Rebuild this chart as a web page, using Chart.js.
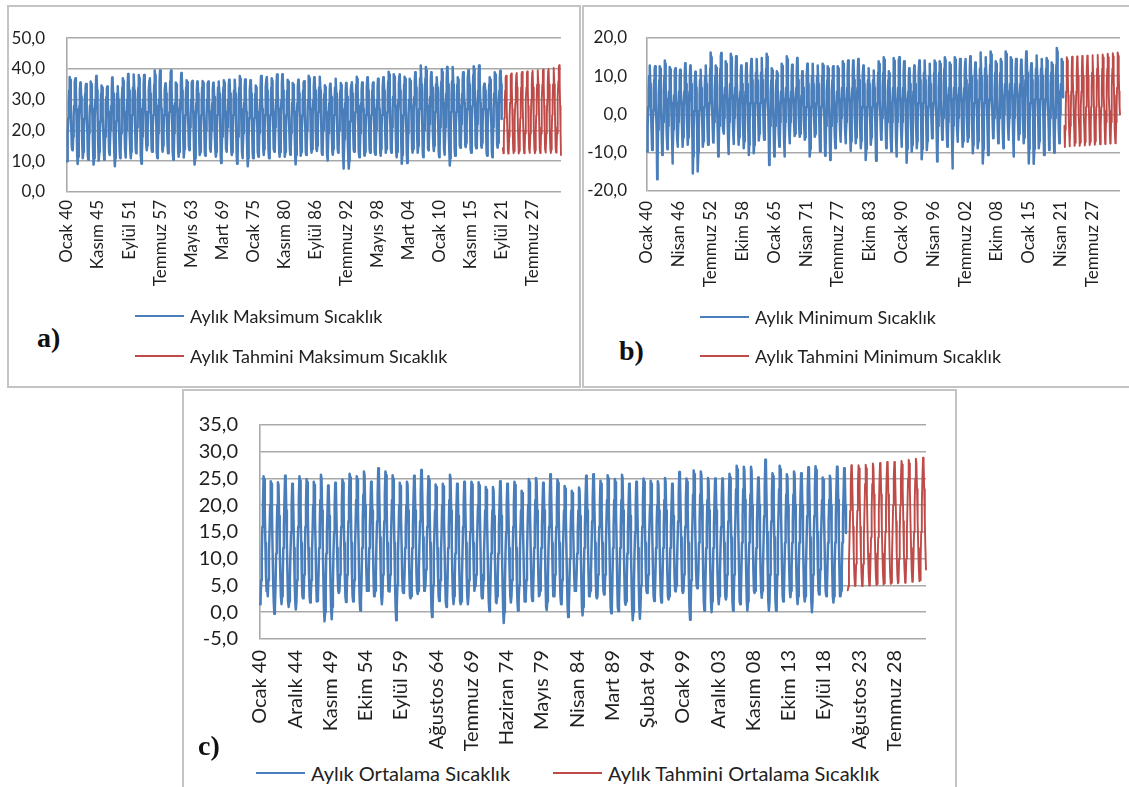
<!DOCTYPE html>
<html><head><meta charset="utf-8">
<script src="https://cdn.jsdelivr.net/npm/chart.js@4.4.1/dist/chart.umd.min.js"></script>
<style>
html,body{margin:0;padding:0;background:#fff;}
body{width:1129px;height:787px;position:relative;overflow:hidden;font-family:Lato,'Open Sans',sans-serif;color:#222;}
.frame{position:absolute;box-sizing:border-box;border:2px solid #c4c4c4;}
canvas{position:absolute;}
.tag{position:absolute;font-family:'Liberation Serif','DejaVu Serif',serif;font-weight:bold;font-size:28px;line-height:28px;color:#111;}
.leg{position:absolute;display:flex;align-items:center;white-space:nowrap;font-family:Lato,sans-serif;color:#222;height:24px;}
.leg .ln{display:inline-block;width:49px;height:2.5px;margin-right:6px;}
</style></head><body>
<div class="frame" style="left:7px;top:5px;width:574px;height:383px;"></div>
<div class="frame" style="left:582px;top:5px;width:549px;height:383px;"></div>
<div class="frame" style="left:182px;top:389px;width:775px;height:402px;"></div>
<canvas id="cA" width="572" height="300" style="left:8px;top:6px;"></canvas>
<canvas id="cB" width="545" height="300" style="left:584px;top:6px;"></canvas>
<canvas id="cC" width="772" height="370" style="left:184px;top:391px;"></canvas>
<div class="tag" style="left:37px;top:324px;">a)</div>
<div class="tag" style="left:619px;top:337px;">b)</div>
<div class="tag" style="left:198px;top:732px;">c)</div>
<div id="legA1" class="leg" style="left:135px;top:304px;font-size:18px;"></div>
<div id="legA2" class="leg" style="left:135px;top:344px;font-size:18px;"></div>
<div id="legB1" class="leg" style="left:700px;top:305px;font-size:18px;"></div>
<div id="legB2" class="leg" style="left:700px;top:344px;font-size:18px;"></div>
<div id="legC1" class="leg" style="left:256px;top:761px;font-size:20px;"></div>
<div id="legC2" class="leg" style="left:553px;top:761px;font-size:20px;"></div>
<script>
const monthNames = ['Ocak','Şubat','Mart','Nisan','Mayıs','Haziran','Temmuz','Ağustos','Eylül','Ekim','Kasım','Aralık'];
const firstYear = 1940;
const lastYear = 2032;
const forecastFirstYear = 2022;
const tickEveryA = 70;
const tickEveryB = 75;
const tickEveryC = 59;

const seriesNames = {
  maxObs: 'Aylık Maksimum Sıcaklık', maxFc: 'Aylık Tahmini Maksimum Sıcaklık',
  minObs: 'Aylık Minimum Sıcaklık', minFc: 'Aylık Tahmini Minimum Sıcaklık',
  meanObs: 'Aylık Ortalama Sıcaklık', meanFc: 'Aylık Tahmini Ortalama Sıcaklık'
};

// a) monthly maximum temperature, Jan 1940 - Oct 2021
const maxObserved = [
10.0,12.5,19,24,29,33,37.4,36.5,32,26,19,14.5,
13.6,14,18,25,28,32,35.8,37.0,33,27,20,12,
9.1,11.5,18,23,28,33,35.6,34.8,31,26,18,13,
11.0,13,20,24,29,32,34.2,35.1,32,25,19,12,
10.5,12,19,25,28,33,35.9,35.0,31,27,20,13,
8.9,11,17,24,30,34,37.7,36.6,33,26,18,12,
10.2,13,19,23,28,32,34.6,34.0,31,25,19,14,
10.5,12,18,24,29,31,33.5,34.3,31,26,20,13,
12.0,14,20,25,28,33,37.2,36.0,32,27,19,12,
8.4,11,18,23,28,32,34.4,33.8,30,25,18,13,
11.0,13,19,25,29,34,37.0,36.2,32,26,20,14,
11.2,12,20,24,30,35,38.4,37.5,33,27,19,13,
11.0,13,19,25,29,34,37.4,38.2,33,28,20,14,
12.6,14,21,26,30,34,38.0,37.1,33,27,19,12,
9.2,12,18,24,30,35,38.0,37.5,34,26,20,15,
13.6,15,20,26,29,33,36.2,37.0,32,27,21,14,
13.1,14,21,25,31,35,39.5,38.0,34,28,20,13,
11.0,13,19,26,30,36,39.5,38.6,33,27,21,14,
13.1,15,20,25,29,33,35.3,34.8,32,26,20,15,
12.6,13,20,26,31,36,38.6,39.5,34,28,20,13,
10.5,12,19,24,29,33,35.6,35.0,32,27,19,13,
11.5,13,20,25,30,35,38.7,37.9,33,26,20,14,
11.2,14,19,25,29,34,36.3,35.8,32,27,21,15,
13.6,15,21,25,30,33,35.4,36.1,33,26,19,12,
8.9,11,18,24,29,33,35.9,35.2,32,26,20,14,
12.0,13,19,25,29,34,36.1,35.5,31,27,20,13,
11.8,14,20,24,30,33,35.2,35.9,32,26,21,14,
13.1,14,20,26,29,33,35.5,35.0,31,26,19,13,
11.5,13,19,25,30,34,35.9,35.3,32,27,20,12,
9.4,12,18,24,29,34,36.3,35.6,33,26,20,14,
13.1,14,21,25,30,34,36.5,36.0,32,27,21,13,
12.0,13,19,25,29,33,35.8,36.5,32,26,19,12,
9.2,11,18,24,30,34,37.7,36.8,33,27,20,13,
11.0,13,19,25,29,34,36.6,36.0,32,26,19,12,
8.4,11,18,24,29,33,36.3,35.5,32,27,20,13,
11.0,13,19,24,28,32,34.6,34.0,31,26,19,13,
11.5,13,19,25,30,34,37.7,36.9,32,27,20,14,
12.0,14,20,25,30,34,36.8,37.4,33,27,19,13,
11.0,13,19,25,29,34,37.0,36.2,32,26,20,14,
13.1,14,21,26,30,35,38.2,37.3,33,27,20,13,
11.5,13,19,25,30,35,38.3,37.6,33,27,20,13,
11.5,13,20,25,29,33,36.5,35.9,32,26,19,14,
12.1,14,19,24,29,33,35.4,34.9,31,26,19,12,
9.0,12,18,24,29,34,36.5,36.0,32,27,20,14,
11.8,13,20,25,29,33,35.4,36.0,32,26,20,13,
12.0,14,20,26,30,35,37.8,37.0,33,27,21,14,
12.8,14,21,25,30,34,37.3,36.5,33,28,20,14,
13.3,15,20,26,30,34,36.8,37.5,33,27,21,13,
12.1,13,20,25,29,32,34.7,34.1,31,26,19,12,
10.2,12,19,24,29,33,35.2,34.6,31,27,20,13,
12.1,14,20,25,30,34,36.8,36.0,32,26,20,14,
12.8,14,20,25,29,33,35.4,34.8,32,27,20,12,
7.6,10,17,24,29,33,35.4,34.7,31,26,18,11,
7.6,10,17,23,29,33,35.0,35.7,32,27,20,14,
13.1,15,21,26,30,35,37.5,36.7,33,28,20,13,
11.3,13,19,25,29,33,35.6,35.0,32,27,19,12,
11.8,13,20,25,30,34,37.3,36.6,33,26,20,14,
12.8,14,20,25,29,33,35.0,35.6,32,27,20,13,
12.1,14,20,26,30,34,36.8,36.1,33,27,20,13,
11.8,14,20,25,30,34,37.3,36.5,33,28,21,14,
12.8,14,21,26,31,36,39.1,38.2,34,28,21,14,
12.8,15,21,27,31,35,38.3,37.5,34,28,20,13,
11.3,13,20,26,30,35,37.6,38.3,33,27,20,13,
9.2,12,18,25,30,35,37.5,36.8,33,27,20,12,
9.4,12,19,25,30,34,36.8,36.1,33,28,21,14,
12.8,14,21,26,31,36,38.9,38.0,34,28,20,14,
12.8,15,21,27,32,37,40.2,41.1,35,29,21,13,
11.3,14,20,27,32,37,40.6,39.5,35,28,22,14,
13.5,15,22,27,31,36,38.9,38.2,34,29,21,15,
13.3,15,21,26,31,35,37.3,36.6,34,28,21,13,
11.3,14,21,27,32,36,39.9,39.0,35,29,22,14,
12.1,14,21,27,32,37,40.6,39.8,35,28,21,13,
8.6,11,19,26,31,36,39.7,40.6,35,29,22,14,
11.8,14,21,26,31,35,37.3,36.5,34,28,21,15,
14.4,16,22,27,32,36,38.9,38.0,35,29,22,15,
14.6,16,22,27,32,37,39.6,38.8,35,29,21,14,
12.8,15,22,28,33,38,40.9,40.0,35,29,22,15,
14.2,16,22,28,33,38,41.1,40.2,36,29,22,15,
14.4,16,22,27,31,34,35.2,34.6,33,28,21,13,
11.8,14,21,27,31,35,37.3,36.5,34,29,21,13,
11.3,14,21,27,32,36,38.9,38.1,35,29,22,15,
14.4,16,22,28,33,37,39.4,38.5,35,23.7
];
// a) forecast, Jan 2022 - Dec 2032
const maxForecast = [
14.2,12.6,18,24,29,33,37.2,37.8,33,27,20,14,
12.5,13.2,18,24,29,34,37.9,38.5,34,27,20,14,
12.6,13.3,18,24,29,34,38.1,38.7,34,27,20,14,
12.5,13.4,18,24,29,34,38.4,39.0,34,28,20,14,
12.6,13.4,19,24,30,34,38.6,39.2,34,28,20,14,
12.7,13.5,19,24,30,35,38.8,39.4,34,28,21,14,
12.6,13.5,19,25,30,35,39.0,39.6,35,28,21,14,
12.7,13.6,19,25,30,35,39.2,39.8,35,28,21,14,
12.8,13.6,19,25,30,35,39.4,40.0,35,28,21,14,
12.7,13.7,19,25,30,35,39.7,40.3,35,28,21,14,
12.8,13.7,19,25,31,36,40.6,41.2,35,28,20,12
];

// b) monthly minimum temperature, Jan 1940 - Oct 2021
const minObserved = [
-9.7,-7,-3,2,6,10,12.8,12.2,8,3,-1,-5,
-9.3,-8,-3,1,6,9,11.9,12.6,8,4,-1,-6,
-16.9,-12,-4,1,5,9,12.6,12.0,7,3,-2,-7,
-10.6,-8,-2,2,6,10,14.1,13.2,8,4,0,-5,
-9.1,-7,-3,2,6,9,12.4,11.8,7,3,-1,-6,
-12.8,-10,-4,1,5,9,11.5,12.1,7,3,-2,-6,
-8.4,-7,-2,2,6,9,11.7,11.2,7,3,-1,-5,
-8.4,-6,-2,2,6,10,13.4,12.8,8,4,0,-4,
-7.9,-6,-2,3,6,10,12.8,12.0,8,3,-1,-6,
-15.4,-11,-4,1,5,8,11.2,10.8,7,2,-3,-9,
-14.9,-10,-4,1,5,9,11.7,11.2,7,3,-1,-5,
-8.4,-7,-2,2,6,10,12.8,12.3,8,4,0,-5,
-7.9,-6,-1,3,7,12,16.2,15.0,10,5,0,-4,
-7.3,-6,-2,2,6,10,12.8,12.2,8,3,-1,-6,
-11.0,-9,-3,3,7,12,15.2,16.1,10,5,1,-3,
-4.5,-5,-1,3,7,11,13.9,13.2,9,4,-1,-6,
-10.3,-8,-2,3,8,12,15.9,15.0,10,5,0,-4,
-7.7,-6,-1,3,7,11,15.2,14.5,9,4,0,-5,
-7.9,-6,-2,2,6,10,12.8,12.2,8,3,-1,-5,
-8.8,-7,-2,2,6,10,13.4,12.8,8,4,0,-5,
-10.6,-8,-2,3,7,11,14.5,13.8,9,4,0,-6,
-10.1,-8,-2,3,7,11,13.6,14.5,9,4,0,-4,
-6.8,-5,-1,3,7,11,14.8,14.0,9,5,1,-4,
-6.6,-6,-1,4,8,12,15.9,15.1,10,5,0,-6,
-13.2,-9,-3,2,6,9,12.1,11.6,8,3,-1,-6,
-11.0,-8,-3,2,5,9,11.3,10.8,7,3,-1,-5,
-8.4,-7,-2,2,6,10,13.3,12.7,8,4,0,-6,
-11.0,-8,-2,3,7,11,15.2,14.4,9,4,0,-4,
-7.5,-6,-2,2,6,10,13.0,12.4,8,4,0,-3,
-5.6,-5,-1,3,7,11,14.8,14.0,9,4,0,-4,
-5.8,-5,-2,2,5,9,11.3,10.9,7,3,-1,-4,
-6.6,-6,-2,2,6,10,13.3,12.6,8,4,0,-6,
-11.0,-9,-3,2,6,10,12.7,13.3,8,3,-1,-3,
-5.8,-5,-1,3,6,10,12.8,12.2,8,3,-1,-6,
-9.7,-8,-2,2,6,10,13.3,12.8,8,4,0,-6,
-10.8,-9,-3,2,6,9,12.6,12.0,8,3,-1,-7,
-11.9,-9,-3,2,6,9,12.0,12.6,8,3,-1,-5,
-8.8,-7,-2,2,6,10,12.6,12.0,8,4,0,-4,
-7.1,-6,-1,3,7,11,13.9,13.2,9,4,0,-4,
-7.5,-6,-2,3,7,11,14.1,13.5,9,4,0,-5,
-9.5,-7,-2,3,7,11,14.1,13.4,9,4,0,-4,
-7.5,-6,-2,3,7,11,14.5,13.8,9,4,0,-5,
-8.8,-7,-2,2,6,10,12.8,12.2,8,3,-1,-6,
-11.9,-9,-3,2,6,9,12.1,11.6,8,3,-1,-4,
-7.9,-6,-2,2,6,9,11.5,11.0,7,3,-1,-6,
-12.1,-9,-3,3,7,11,13.9,13.2,9,4,0,-4,
-6.6,-5,-1,3,7,11,15.0,14.3,9,4,0,-5,
-8.8,-7,-2,2,6,9,11.3,10.8,7,3,-1,-6,
-9.7,-8,-2,3,7,11,14.8,14.0,9,4,0,-6,
-11.0,-8,-2,3,7,11,14.2,15.0,9,4,0,-4,
-8.4,-7,-2,3,7,11,13.9,13.3,9,4,0,-6,
-12.6,-9,-3,2,6,9,12.1,11.6,8,3,-1,-5,
-9.7,-8,-2,2,6,10,12.8,12.2,8,3,-1,-5,
-8.8,-7,-2,3,7,11,14.1,13.4,9,4,0,-6,
-11.7,-9,-3,3,7,11,14.1,13.5,9,4,0,-5,
-9.3,-7,-2,2,6,10,13.3,12.6,8,4,0,-3,
-6.2,-5,-1,3,7,11,14.1,13.5,9,4,0,-6,
-12.3,-9,-3,3,7,11,13.9,13.2,9,4,0,-3,
-6.6,-5,-1,3,8,12,15.0,14.3,10,5,1,-4,
-8.4,-7,-2,3,7,10,13.6,13.0,9,4,0,-6,
-14.1,-10,-3,3,7,11,15.0,14.3,9,5,0,-4,
-7.1,-6,-1,3,7,11,14.5,13.8,9,4,0,-5,
-8.4,-7,-2,3,7,11,13.8,14.5,9,4,0,-4,
-7.1,-6,-1,3,8,12,15.2,14.5,10,5,0,-5,
-10.1,-8,-2,3,7,10,13.6,13.0,9,4,0,-5,
-8.8,-7,-1,4,8,12,16.2,15.4,10,5,1,-6,
-12.8,-9,-2,3,8,12,15.0,14.3,10,5,0,-5,
-10.6,-8,-1,4,8,13,16.5,15.7,10,5,1,-3,
-6.2,-5,-1,3,7,11,13.9,13.3,9,5,0,-4,
-7.5,-6,-1,3,7,11,14.5,13.8,9,5,1,-4,
-8.8,-6,0,4,8,13,16.5,15.8,11,6,1,-3,
-6.6,-5,-1,4,8,12,15.0,14.3,10,5,0,-5,
-11.0,-8,-1,4,8,12,14.5,13.9,10,5,1,-3,
-6.6,-5,-1,4,8,11,14.3,13.7,10,5,0,-4,
-7.5,-6,0,4,9,13,16.5,15.7,11,6,1,-6,
-12.8,-9,-2,3,7,11,13.4,12.9,9,4,0,-6,
-12.9,-9,-2,4,8,12,15.4,14.7,10,5,0,-4,
-8.8,-7,-1,4,8,12,14.5,13.9,10,5,1,-5,
-10.6,-8,-1,4,8,12,14.8,14.1,10,5,0,-4,
-9.3,-7,-1,3,8,11,13.6,13.0,9,5,0,-5,
-10.0,-7,-1,4,9,13,17.4,16.5,11,6,1,-3,
-7.5,-6,0,4,8,12,14.5,13.8,10,4.5
];
// b) forecast, Jan 2022 - Dec 2032
const minForecast = [
-3.0,-8.5,-4,1,6,11,15.0,14.2,10,5,0,-4,
-8.3,-7.5,-3,1,6,11,15.1,14.3,10,5,0,-4,
-8.2,-7.4,-3,1,6,11,15.2,14.4,10,5,0,-4,
-8.2,-7.3,-3,2,6,11,15.3,14.5,10,5,0,-4,
-8.1,-7.2,-3,2,6,11,15.4,14.6,10,5,0,-4,
-8.0,-7.1,-3,2,7,11,15.5,14.7,10,5,0,-4,
-7.9,-7.0,-3,2,7,12,15.6,14.8,10,5,1,-4,
-7.8,-7.0,-3,2,7,12,15.7,14.9,10,5,1,-4,
-7.7,-6.9,-2,2,7,12,15.9,15.0,10,5,1,-4,
-7.6,-6.8,-2,2,7,12,16.0,15.2,11,5,1,-4,
-7.5,-6.7,-2,2,7,12,16.2,15.3,11,6,2,0
];

// c) monthly mean temperature, Jan 1940 - Oct 2021
const meanObserved = [
1.5,2.5,6,11,16,20,25.4,24.8,19,13,7,4,
4.5,3,6,11,15,20,24.5,24.0,19,12,6,2,
-0.3,1,5,11,15,20,24.3,23.8,18,12,7,3,
1.5,3,6,12,16,21,25.5,24.9,19,13,7,2,
1.0,2,6,11,15,20,24.0,23.5,18,12,6,2,
0.5,2,6,12,16,21,25.4,24.6,19,13,7,3,
2.6,3,7,11,16,20,24.9,24.3,19,12,7,3,
1.8,3,6,11,15,20,24.4,23.8,18,13,6,2,
2.1,3,7,12,16,21,25.7,25.0,19,13,7,1,
-1.7,0,5,11,15,19,23.7,23.2,18,12,6,1,
-1.3,1,5,11,15,20,24.2,23.7,18,12,7,4,
3.6,4,7,12,16,20,24.8,24.2,19,13,7,3,
1.9,3,7,12,17,21,25.9,25.2,20,13,7,3,
2.0,3,6,12,16,21,25.4,24.8,19,13,6,2,
0.3,2,6,12,17,22,26.3,25.6,20,14,8,4,
4.6,4,7,12,16,20,24.4,23.9,19,13,7,3,
3.3,4,7,13,17,22,26.9,26.1,20,14,8,3,
1.5,3,7,12,17,22,26.3,25.6,20,13,8,4,
3.9,4,7,12,17,21,25.6,24.9,19,13,6,1,
-1.5,1,5,11,15,20,24.2,23.6,18,13,7,4,
3.6,4,7,12,16,20,24.4,23.9,19,13,7,3,
2.6,3,7,12,16,21,25.5,24.8,19,13,7,4,
3.4,4,8,13,17,22,26.6,25.9,20,14,8,4,
4.4,5,8,12,16,21,25.4,24.7,19,13,6,1,
-0.9,1,5,11,15,19,23.9,23.4,18,12,7,3,
2.1,3,6,11,15,20,24.0,23.5,18,12,6,2,
1.0,2,6,12,16,21,25.7,25.0,19,13,7,3,
1.5,3,6,11,15,20,24.0,23.5,18,12,6,2,
1.5,2,6,11,16,20,24.4,23.8,18,13,7,3,
1.5,3,6,11,15,20,24.4,23.9,19,13,7,4,
4.9,5,7,12,16,20,24.3,23.7,19,13,7,3,
2.6,3,6,11,15,19,23.4,22.9,18,12,6,2,
0.2,2,6,11,15,19,23.4,22.8,18,12,6,2,
1.7,3,6,11,16,20,24.5,23.9,18,12,6,1,
-2.0,0,5,11,15,20,24.0,23.5,18,12,7,3,
1.8,3,6,11,16,20,24.4,23.8,18,12,6,2,
0.3,2,5,10,15,19,22.7,22.3,17,12,6,2,
2.0,3,6,11,16,20,24.9,24.3,19,13,7,3,
2.1,3,7,12,16,21,25.1,24.5,19,13,7,3,
3.2,4,7,12,16,20,24.2,23.6,19,13,6,1,
0.4,2,6,12,16,21,25.8,25.1,19,13,7,3,
3.0,3,7,12,16,20,24.8,24.2,19,13,7,3,
1.5,2,6,11,15,19,23.6,23.1,18,12,6,1,
-0.9,1,5,10,15,19,22.7,22.3,17,12,7,4,
4.1,4,7,11,15,19,23.3,22.8,18,12,6,1,
-0.6,1,6,12,16,21,25.5,24.8,19,13,7,3,
3.2,4,7,12,17,21,25.8,25.1,19,13,7,3,
2.6,3,7,12,16,20,24.6,24.0,19,13,7,4,
3.3,4,7,12,17,21,25.6,25.0,19,13,6,1,
-0.2,1,6,12,16,21,24.9,24.3,19,13,6,1,
0.2,2,6,12,16,21,25.7,25.1,19,13,7,2,
1.4,2,6,11,15,20,24.0,23.5,18,12,6,1,
-1.5,0,5,11,15,20,24.4,23.8,18,12,6,1,
-1.2,1,5,11,16,20,25.0,24.4,19,13,7,4,
3.6,4,7,12,16,20,24.6,24.0,19,13,7,3,
2.1,3,7,12,16,20,24.5,23.9,19,13,7,3,
1.8,3,7,12,16,21,25.1,24.5,19,13,7,3,
2.4,3,6,12,16,20,24.0,23.6,18,13,7,4,
3.9,5,8,13,17,22,26.2,25.5,20,14,8,4,
3.6,4,7,12,16,21,25.0,24.4,19,13,6,1,
-1.4,1,6,12,17,22,26.5,25.8,20,14,8,5,
4.5,5,8,13,17,22,26.3,25.6,20,14,7,2,
0.3,2,7,12,16,21,25.1,24.5,19,13,7,2,
0.0,2,6,12,16,21,25.0,24.4,19,13,7,3,
1.5,3,7,12,16,21,25.0,24.5,19,13,7,3,
2.4,3,7,12,17,21,25.9,25.2,20,14,7,2,
0.3,2,7,13,18,23,27.4,26.7,21,14,8,2,
1.5,3,8,13,18,23,27.2,26.5,21,14,7,2,
0.3,2,8,13,17,22,27.2,26.4,20,14,8,4,
3.6,4,8,12,17,21,25.2,24.7,20,14,8,4,
2.7,4,8,13,18,23,28.5,27.6,21,15,8,2,
0.3,2,7,13,17,22,26.0,25.4,20,14,7,2,
0.3,2,7,13,18,23,27.4,26.7,21,14,8,3,
2.0,3,8,13,17,22,25.8,25.2,20,14,8,4,
2.8,4,8,13,17,22,26.3,25.7,20,14,7,3,
1.5,3,8,13,17,22,26.0,25.4,20,14,8,3,
2.0,3,8,13,18,23,27.1,26.4,21,14,7,2,
0.0,2,7,13,18,23,27.3,26.6,21,15,8,4,
3.3,4,8,13,17,21,25.2,24.7,20,14,8,4,
3.0,4,8,13,17,21,25.5,24.9,20,14,8,3,
1.8,3,8,13,18,23,27.2,26.5,21,15,8,3,
3.0,4,8,13,18,22,26.9,26.2,20,14.8
];
// c) forecast, Jan 2022 - Dec 2032
const meanForecast = [
4.1,4.8,9,14,19,24,27.5,26.8,22,16,11,7,
4.9,5.0,9,14,19,24,27.5,26.9,22,16,11,7,
4.9,5.1,9,14,19,24,27.6,26.9,22,16,11,7,
5.0,5.2,9,14,19,24,27.8,27.1,22,16,11,7,
5.1,5.3,9,14,19,24,27.9,27.2,22,16,11,7,
5.2,5.4,10,15,20,25,28.1,27.4,22,17,11,7,
5.3,5.5,10,15,20,25,28.1,27.4,22,17,11,7,
5.4,5.6,10,15,20,25,28.3,27.6,23,17,11,8,
5.5,5.7,10,15,20,25,28.5,27.8,23,17,12,8,
5.7,5.8,10,15,20,25,28.7,27.9,23,17,12,8,
5.8,6.0,10,15,20,25,28.9,28.1,23,17,12,8
];

const BLUE = '#4a7ebb';
const RED = '#be4b48';
const GRID = '#a9a9a9';
const TXT = '#1f1f1f';

const labels = [];
for (let y = firstYear; y <= lastYear; y++) {
  for (let m = 0; m < 12; m++) labels.push(monthNames[m] + ' ' + String(y % 100).padStart(2, '0'));
}
const forecastStart = (forecastFirstYear - firstYear) * 12;
function placeForecast(fc) {
  return labels.map((_, i) => (i >= forecastStart && i - forecastStart < fc.length) ? fc[i - forecastStart] : null);
}

function buildChart(id, obs, fc, obsName, fcName, yMin, yMax, yStep, tickEvery, g) {
  return new Chart(document.getElementById(id), {
    type: 'line',
    data: {
      labels: labels,
      datasets: [
        {label: obsName, data: obs, borderColor: BLUE, backgroundColor: BLUE, borderWidth: 2.5, pointRadius: 0, tension: 0, fill: false},
        {label: fcName, data: placeForecast(fc), borderColor: RED, backgroundColor: RED, borderWidth: 1.9, pointRadius: 0, tension: 0, fill: false}
      ]
    },
    options: {
      responsive: false, animation: false, devicePixelRatio: 1,
      layout: {padding: g.pad},
      plugins: {legend: {display: false}, tooltip: {enabled: false}},
      elements: {line: {borderJoinStyle: 'round', borderCapStyle: 'round'}},
      scales: {
        x: {
          type: 'category',
          grid: {display: false, drawTicks: false},
          border: {display: false},
          afterFit: s => { s.height = g.xh; },
          ticks: {
            autoSkip: false, minRotation: 90, maxRotation: 90, padding: g.xpad,
            color: TXT, font: {family: 'Lato', size: g.font},
            callback: function(v, i) { return i % tickEvery === 0 ? this.getLabelForValue(v) : null; }
          }
        },
        y: {
          min: yMin, max: yMax,
          grid: {color: GRID, lineWidth: 1.6, drawTicks: false},
          border: {display: true, color: GRID, width: 1.6},
          afterFit: s => { s.width = g.yw; },
          ticks: {
            stepSize: yStep, autoSkip: false, padding: g.ypad, color: TXT, font: {family: 'Lato', size: g.font},
            callback: v => Number(v).toFixed(1).replace('.', ',')
          }
        }
      }
    }
  });
}

buildChart('cA', maxObserved, maxForecast, seriesNames.maxObs, seriesNames.maxFc, 0, 50, 10, tickEveryA,
  {pad: {left: 0, top: 27, right: 19, bottom: 0}, yw: 59, ypad: 22, xh: 114, xpad: 8, font: 17});
buildChart('cB', minObserved, minForecast, seriesNames.minObs, seriesNames.minFc, -20, 20, 10, tickEveryB,
  {pad: {left: 0, top: 32, right: 9, bottom: 0}, yw: 63, ypad: 20, xh: 115, xpad: 10, font: 17});
buildChart('cC', meanObserved, meanForecast, seriesNames.meanObs, seriesNames.meanFc, -5, 35, 5, tickEveryC,
  {pad: {left: 0, top: 28, right: 30, bottom: 0}, yw: 76, ypad: 22, xh: 122, xpad: 11, font: 20});

function legend(id, color, text) {
  const el = document.getElementById(id);
  const ln = document.createElement('span');
  ln.className = 'ln'; ln.style.background = color;
  const tx = document.createElement('span');
  tx.textContent = text;
  el.appendChild(ln); el.appendChild(tx);
}
legend('legA1', BLUE, seriesNames.maxObs);
legend('legA2', RED, seriesNames.maxFc);
legend('legB1', BLUE, seriesNames.minObs);
legend('legB2', RED, seriesNames.minFc);
legend('legC1', BLUE, seriesNames.meanObs);
legend('legC2', RED, seriesNames.meanFc);
</script>
</body></html>
